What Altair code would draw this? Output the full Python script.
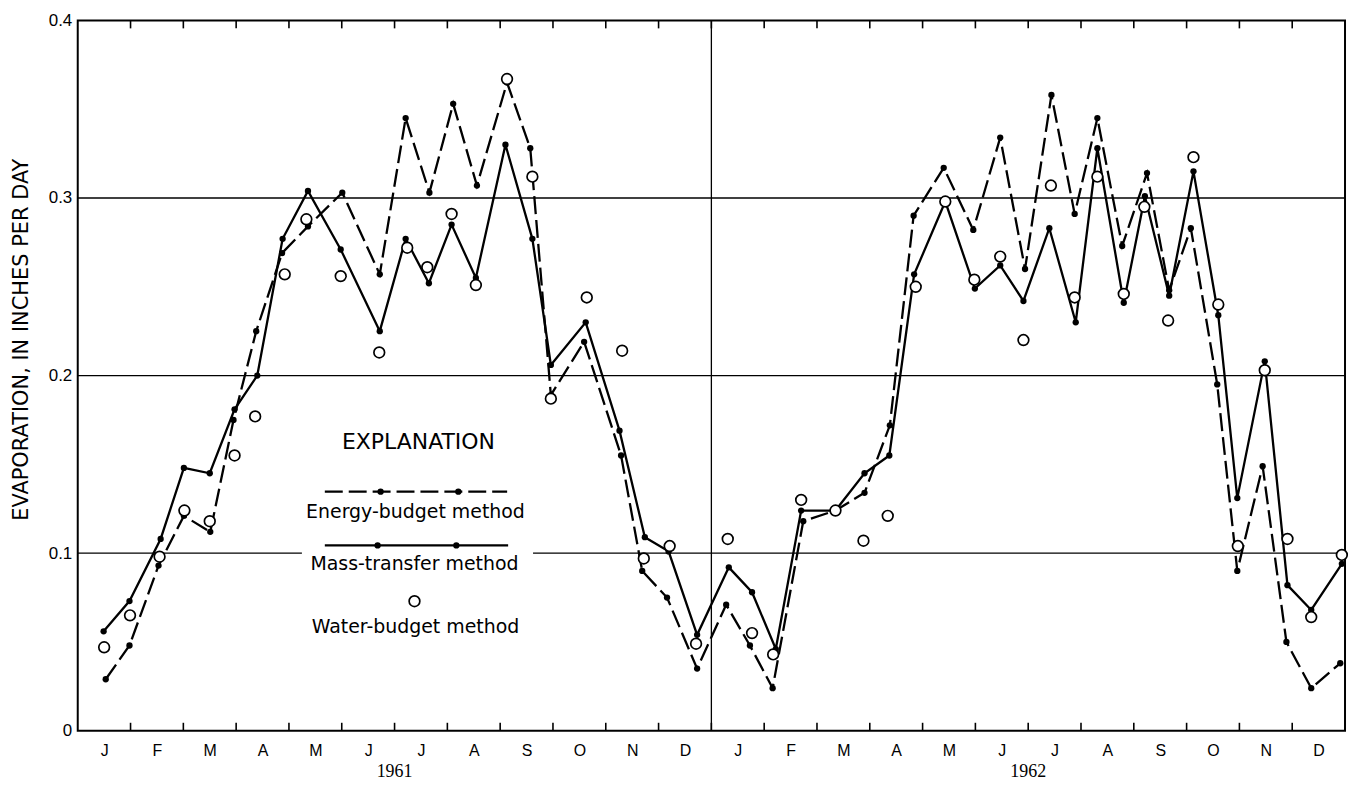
import json
import altair as alt
import pandas as pd

# ---------------- data ----------------
MONTH_LABELS = ["J", "F", "M", "A", "M", "J", "J", "A", "S", "O", "N", "D"]
YEAR_LABELS = ["1961", "1962"]
YEAR_CENTERS = [6, 18]
Y_TICKS = [0, 0.1, 0.2, 0.3, 0.4]
Y_TICK_LABELS = ["0", "0.1", "0.2", "0.3", "0.4"]
GRID_VALUES = [0.1, 0.2, 0.3]
MONTH_BOUNDARIES = list(range(1, 24))
YEAR_DIVIDER = [12]
SERIES_LABELS = ["Energy-budget method", "Mass-transfer method", "Water-budget method"]
LEGEND_TITLE = "EXPLANATION"
Y_TITLE = "EVAPORATION, IN INCHES PER DAY"

# x = months since 1 Jan 1961
ENERGY_M = [0.53, 0.98, 1.53, 2.01, 2.51, 2.95, 3.38, 3.87, 4.36, 5.01, 5.72, 6.21,
            6.66, 7.11, 7.56, 8.13, 8.57, 8.96, 9.59, 10.29, 10.69, 11.16, 11.73, 12.28,
            12.73, 13.16, 13.74, 14.35, 14.90, 15.38, 15.83, 16.40, 16.96, 17.47, 17.94, 18.44,
            18.88, 19.31, 19.78, 20.25, 20.67, 21.08, 21.58, 21.96, 22.44, 22.89, 23.36, 23.91]
ENERGY_V = [0.029, 0.048, 0.093, 0.121, 0.112, 0.175, 0.225, 0.269, 0.284, 0.303, 0.257, 0.345,
            0.303, 0.353, 0.307, 0.365, 0.328, 0.189, 0.219, 0.155, 0.090, 0.075, 0.035, 0.071,
            0.048, 0.024, 0.118, 0.124, 0.134, 0.172, 0.290, 0.317, 0.282, 0.334, 0.260, 0.358,
            0.291, 0.345, 0.273, 0.314, 0.248, 0.283, 0.195, 0.090, 0.149, 0.050, 0.024, 0.038]

MASS_M = [0.49, 0.98, 1.57, 2.01, 2.50, 2.97, 3.40, 3.88, 4.36, 4.98, 5.72, 6.21,
          6.65, 7.08, 7.54, 8.10, 8.61, 8.96, 9.62, 10.26, 10.74, 11.19, 11.73, 12.33,
          12.77, 13.22, 13.70, 14.35, 14.90, 15.37, 15.84, 16.43, 16.99, 17.47, 17.91, 18.40,
          18.90, 19.31, 19.81, 20.21, 20.67, 21.13, 21.60, 21.96, 22.48, 22.91, 23.36, 23.94]
MASS_V = [0.056, 0.073, 0.108, 0.148, 0.145, 0.181, 0.200, 0.277, 0.304, 0.271, 0.225, 0.277,
          0.252, 0.285, 0.255, 0.330, 0.277, 0.206, 0.230, 0.169, 0.109, 0.101, 0.054, 0.092,
          0.078, 0.046, 0.124, 0.124, 0.145, 0.155, 0.257, 0.298, 0.249, 0.262, 0.242, 0.283,
          0.230, 0.328, 0.241, 0.301, 0.245, 0.315, 0.234, 0.131, 0.208, 0.082, 0.068, 0.094]

WATER_M = [0.50, 0.99, 1.55, 2.02, 2.50, 2.97, 3.36, 3.92, 4.33, 4.98, 5.71, 6.24,
           6.62, 7.08, 7.54, 8.13, 8.61, 8.96, 9.64, 10.31, 10.72, 11.21, 11.71, 12.31,
           12.77, 13.17, 13.70, 14.35, 14.88, 15.34, 15.87, 16.43, 16.98, 17.47, 17.91, 18.43,
           18.88, 19.31, 19.81, 20.20, 20.65, 21.13, 21.60, 21.97, 22.48, 22.91, 23.36, 23.94]
WATER_V = [0.047, 0.065, 0.098, 0.124, 0.118, 0.155, 0.177, 0.257, 0.288, 0.256, 0.213, 0.272,
           0.261, 0.291, 0.251, 0.367, 0.312, 0.187, 0.244, 0.214, 0.097, 0.104, 0.049, 0.108,
           0.055, 0.043, 0.130, 0.124, 0.107, 0.121, 0.250, 0.298, 0.254, 0.267, 0.220, 0.307,
           0.244, 0.312, 0.246, 0.295, 0.231, 0.323, 0.240, 0.104, 0.203, 0.108, 0.064, 0.099]

# ---------------- chart ----------------
W, H = 1272, 713
SANS = "Liberation Sans"
WIDE = "DejaVu Sans"
SERIF = "Liberation Serif"
DASH = [18, 6]
DOT = 40
RING = 115

xscale = alt.Scale(domain=[0, 24], nice=False, zero=False)
yscale = alt.Scale(domain=[0, 0.4], nice=False, zero=True)

x_axis = alt.Axis(
    values=[i + 0.5 for i in range(24)],
    labelExpr=f"{json.dumps(MONTH_LABELS)}[floor(datum.value) % 12]",
    ticks=False, domain=False, grid=False,
    labelPadding=12, labelFontSize=16, labelFont=SANS, labelColor="black",
    labelAngle=0,
)
y_axis = alt.Axis(
    values=Y_TICKS,
    labelExpr=f"{json.dumps(Y_TICK_LABELS)}[round(datum.value * 10)]",
    ticks=False, domain=False, grid=False,
    labelPadding=6, labelFontSize=17, labelFont=SANS, labelColor="black",
    title=Y_TITLE, titleFont=WIDE, titleFontSize=21, titleFontWeight="normal",
    titleColor="black", titleAngle=270, titleX=-56, titleY=320,
    titleAlign="center", titleBaseline="middle",
)

def X(field):
    return alt.X(f"{field}:Q", scale=xscale, axis=x_axis, title=None)

def Y(field):
    return alt.Y(f"{field}:Q", scale=yscale, axis=y_axis, title=Y_TITLE)

df_grid = pd.DataFrame({"v": GRID_VALUES})
df_div = pd.DataFrame({"m": YEAR_DIVIDER})
df_bounds = pd.DataFrame({"m": MONTH_BOUNDARIES})
df_energy = pd.DataFrame({"m": ENERGY_M, "v": ENERGY_V})
df_mass = pd.DataFrame({"m": MASS_M, "v": MASS_V})
df_water = pd.DataFrame({"m": WATER_M, "v": WATER_V})
df_years = pd.DataFrame({"m": YEAR_CENTERS, "t": YEAR_LABELS})
df_one = pd.DataFrame({"k": [0]})

grid = alt.Chart(df_grid).mark_rule(color="black", strokeWidth=1.3).encode(y=Y("v"))
legend_box = alt.Chart(df_one).mark_rect(color="white").encode(
    x=alt.value(225), x2=alt.value(457), y=alt.value(402), y2=alt.value(622))
divider = alt.Chart(df_div).mark_rule(color="black", strokeWidth=1.3).encode(x=X("m"))
ticks_top = alt.Chart(df_bounds).mark_rule(color="black", strokeWidth=1.6).encode(
    x=X("m"), y=alt.value(0), y2=alt.value(8))
ticks_bot = alt.Chart(df_bounds).mark_rule(color="black", strokeWidth=1.6).encode(
    x=X("m"), y=alt.value(H), y2=alt.value(H - 8))

energy_line = alt.Chart(df_energy).mark_line(color="black", strokeWidth=2.3, strokeDash=DASH).encode(
    x=X("m"), y=Y("v"))
mass_line = alt.Chart(df_mass).mark_line(color="black", strokeWidth=2.3).encode(x=X("m"), y=Y("v"))
energy_pts = alt.Chart(df_energy).mark_circle(color="black", size=DOT, opacity=1).encode(x=X("m"), y=Y("v"))
mass_pts = alt.Chart(df_mass).mark_circle(color="black", size=DOT, opacity=1).encode(x=X("m"), y=Y("v"))
water_pts = alt.Chart(df_water).mark_point(
    shape="circle", size=RING, filled=True, fill="white", stroke="black", strokeWidth=1.7, opacity=1
).encode(x=X("m"), y=Y("v"))

# explanation box
leg_title = alt.Chart(df_one).mark_text(
    text=LEGEND_TITLE, font=WIDE, fontSize=22, align="center", baseline="alphabetic", color="black"
).encode(x=alt.value(342), y=alt.value(430))
leg_energy_line = alt.Chart(df_one).mark_rule(color="black", strokeWidth=2.3, strokeDash=DASH).encode(
    x=alt.value(248), x2=alt.value(431), y=alt.value(473))
leg_energy_dots = [
    alt.Chart(df_one).mark_circle(color="black", size=DOT, opacity=1).encode(x=alt.value(px), y=alt.value(473))
    for px in (304, 382)
]
leg_energy_text = alt.Chart(df_one).mark_text(
    text=SERIES_LABELS[0], font=WIDE, fontSize=19, align="center", baseline="alphabetic", color="black"
).encode(x=alt.value(339), y=alt.value(499))
leg_mass_line = alt.Chart(df_one).mark_rule(color="black", strokeWidth=2.3).encode(
    x=alt.value(248), x2=alt.value(432), y=alt.value(527))
leg_mass_dots = [
    alt.Chart(df_one).mark_circle(color="black", size=DOT, opacity=1).encode(x=alt.value(px), y=alt.value(527))
    for px in (301, 380)
]
leg_mass_text = alt.Chart(df_one).mark_text(
    text=SERIES_LABELS[1], font=WIDE, fontSize=19, align="center", baseline="alphabetic", color="black"
).encode(x=alt.value(338), y=alt.value(552))
leg_water_pt = alt.Chart(df_one).mark_point(
    shape="circle", size=RING, filled=True, fill="white", stroke="black", strokeWidth=1.7, opacity=1
).encode(x=alt.value(338), y=alt.value(583))
leg_water_text = alt.Chart(df_one).mark_text(
    text=SERIES_LABELS[2], font=WIDE, fontSize=19, align="center", baseline="alphabetic", color="black"
).encode(x=alt.value(339), y=alt.value(615))

years = alt.Chart(df_years).mark_text(
    font=SERIF, fontSize=18, align="center", baseline="alphabetic", color="black"
).encode(x=X("m"), y=alt.value(759), text="t:N")

chart = alt.layer(
    grid, legend_box, divider, ticks_top, ticks_bot,
    energy_line, mass_line, energy_pts, mass_pts, water_pts,
    leg_title, leg_energy_line, *leg_energy_dots, leg_energy_text,
    leg_mass_line, *leg_mass_dots, leg_mass_text, leg_water_pt, leg_water_text,
    years,
).properties(
    width=W, height=H,
    autosize=alt.AutoSizeParams(type="none"),
    padding={"left": 70, "top": 11, "right": 4, "bottom": 51},
    background="white",
).configure_view(stroke="black", strokeWidth=2)

chart.save("out.html", embed_options={"renderer": "svg", "actions": False})
